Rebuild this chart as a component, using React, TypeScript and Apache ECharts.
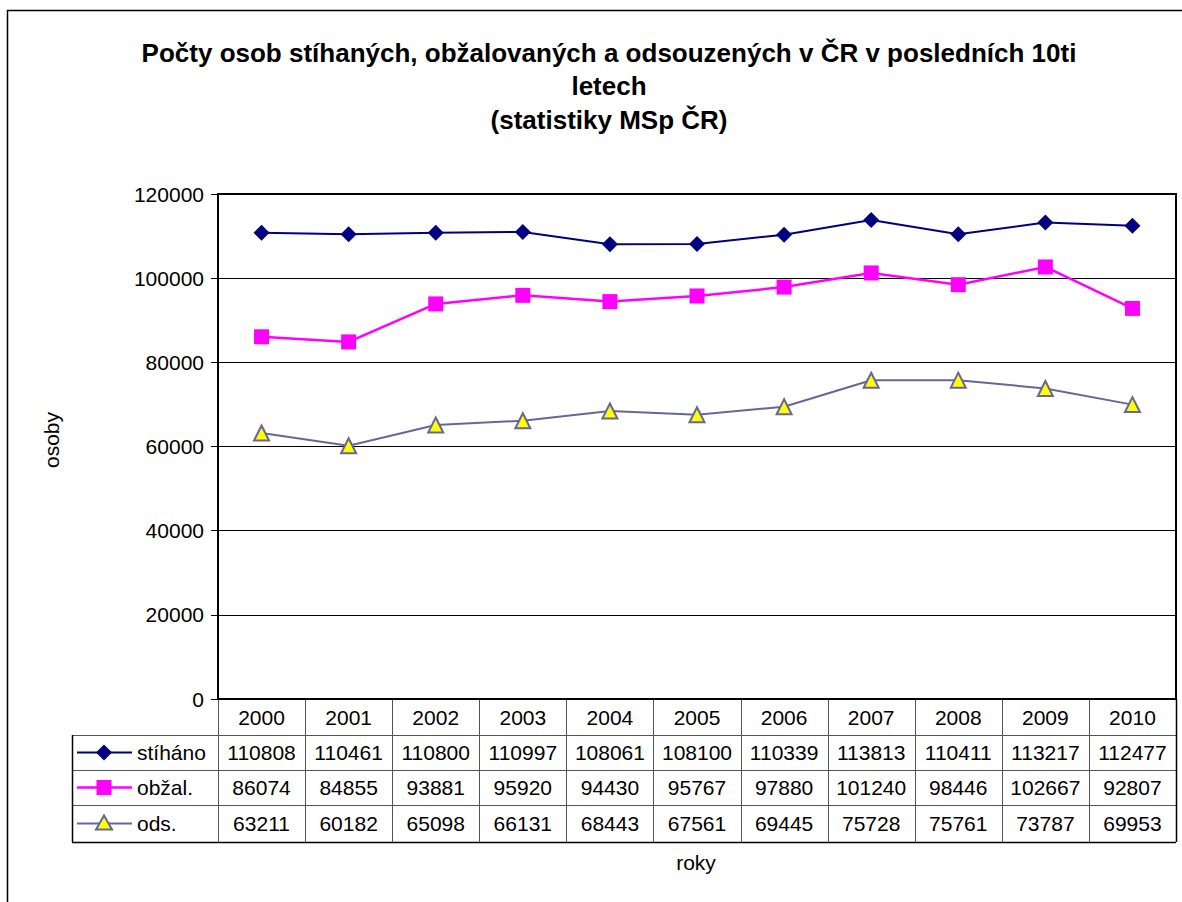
import React, { useEffect, useRef } from "react";
import * as echarts from "echarts";

const years = ["2000", "2001", "2002", "2003", "2004", "2005", "2006", "2007", "2008", "2009", "2010"];
const stihano = [110808, 110461, 110800, 110997, 108061, 108100, 110339, 113813, 110411, 113217, 112477];
const obzal = [86074, 84855, 93881, 95920, 94430, 95767, 97880, 101240, 98446, 102667, 92807];
const ods = [63211, 60182, 65098, 66131, 68443, 67561, 69445, 75728, 75761, 73787, 69953];
const yTicks = { min: 0, max: 120000, interval: 20000 };

const seriesNames = ["stíháno", "obžal.", "ods."];
const titleText = "Počty osob stíhaných, obžalovaných a odsouzených v ČR v posledních 10ti\nletech\n(statistiky MSp ČR)";

const FONT = "'Liberation Sans', Arial, sans-serif";
const FS = 21;
const G = { left: 218, top: 194, width: 958, height: 505 };
const TABLE_LEFT = 72;
const ROW_Y = [699, 735, 770, 805, 842];
const COLORS = {
  s: "#000080",
  o: "#FF00FF",
  d: "#666699",
  dFill: "#FFFF00",
};

export default function App() {
  const ref = useRef<HTMLDivElement>(null);
  useEffect(() => {
    const chart = echarts.init(ref.current!, null, { renderer: "svg" });
    const colW = G.width / years.length;
    const right = G.left + G.width;
    const rowsData = [stihano, obzal, ods];
    const graphics: any[] = [];
    graphics.push({
      type: "rect",
      shape: { x: 7.5, y: 10.5, width: 1300, height: 1000 },
      style: { fill: "none", stroke: "#000", lineWidth: 1.5 },
      silent: true,
    });
    const lineStyle = { stroke: "#555", lineWidth: 1 };
    for (let r = 1; r < ROW_Y.length; r++) {
      graphics.push({
        type: "line",
        shape: { x1: TABLE_LEFT, y1: ROW_Y[r] + 0.5, x2: right, y2: ROW_Y[r] + 0.5 },
        style: r === ROW_Y.length - 1 ? { stroke: "#000", lineWidth: 1.5 } : lineStyle,
      });
    }
    graphics.push({
      type: "line",
      shape: { x1: TABLE_LEFT + 0.5, y1: ROW_Y[1], x2: TABLE_LEFT + 0.5, y2: ROW_Y[4] },
      style: { stroke: "#000", lineWidth: 1.5 },
    });
    for (let c = 0; c <= years.length; c++) {
      const x = Math.round(G.left + c * colW) + 0.5;
      graphics.push({
        type: "line",
        shape: { x1: x, y1: ROW_Y[0], x2: x, y2: ROW_Y[4] },
        style: c === years.length ? { stroke: "#000", lineWidth: 1.5 } : lineStyle,
      });
    }
    rowsData.forEach((arr, r) => {
      const cy = (ROW_Y[r + 1] + ROW_Y[r + 2]) / 2;
      arr.forEach((v, c) => {
        graphics.push({
          type: "text",
          x: G.left + colW * (c + 0.5),
          y: cy,
          style: { text: String(v), font: `${FS}px ${FONT}`, fill: "#000", align: "center", verticalAlign: "middle" },
        });
      });
      const colsLine = [COLORS.s, COLORS.o, COLORS.d][r];
      graphics.push({
        type: "line",
        shape: { x1: 77, y1: cy, x2: 132, y2: cy },
        style: { stroke: colsLine, lineWidth: r === 1 ? 2.5 : 2 },
      });
      const mx = 104;
      if (r === 0) {
        graphics.push({
          type: "polygon",
          shape: { points: [[mx, cy - 8], [mx + 8, cy], [mx, cy + 8], [mx - 8, cy]] },
          style: { fill: COLORS.s },
        });
      } else if (r === 1) {
        graphics.push({ type: "rect", shape: { x: mx - 7.5, y: cy - 7.5, width: 15, height: 15 }, style: { fill: COLORS.o } });
      } else {
        graphics.push({
          type: "polygon",
          shape: { points: [[mx, cy - 8], [mx + 8, cy + 6], [mx - 8, cy + 6]] },
          style: { fill: COLORS.dFill, stroke: COLORS.d, lineWidth: 2 },
        });
      }
      graphics.push({
        type: "text",
        x: 137,
        y: cy,
        style: { text: seriesNames[r], font: `${FS}px ${FONT}`, fill: "#000", align: "left", verticalAlign: "middle" },
      });
    });
    graphics.push({
      type: "text",
      x: 696,
      y: 862,
      style: { text: "roky", font: `${FS}px ${FONT}`, fill: "#000", align: "center", verticalAlign: "middle" },
    });
    graphics.push({
      type: "text",
      x: 51,
      y: 440,
      rotation: Math.PI / 2,
      style: { text: "osoby", font: `${FS}px ${FONT}`, fill: "#000", align: "center", verticalAlign: "middle" },
    });

    chart.setOption({
      animation: false,
      backgroundColor: "#fff",
      textStyle: { fontFamily: FONT },
      title: {
        text: titleText,
        left: 604,
        top: 31,
        textAlign: "center",
        textStyle: { fontSize: 26, fontWeight: "bold", color: "#000", lineHeight: 33.5, fontFamily: FONT },
      },
      grid: { left: G.left, top: G.top, width: G.width, height: G.height, show: true, borderColor: "#000", borderWidth: 2, backgroundColor: "#fff" },
      xAxis: {
        type: "category",
        data: years,
        boundaryGap: true,
        axisLine: { show: false },
        axisTick: { show: false },
        axisLabel: { color: "#000", fontSize: FS, margin: 8, fontFamily: FONT },
        splitLine: { show: false },
      },
      yAxis: {
        type: "value",
        min: yTicks.min,
        max: yTicks.max,
        interval: yTicks.interval,
        axisLine: { show: true, lineStyle: { color: "#000", width: 2 } },
        axisTick: { show: true, length: 7, lineStyle: { color: "#000" } },
        axisLabel: { color: "#000", fontSize: FS, margin: 14, fontFamily: FONT, formatter: (v: number) => String(v) },
        splitLine: { show: true, lineStyle: { color: "#000", width: 1 } },
      },
      graphic: graphics,
      series: [
        {
          name: seriesNames[0],
          type: "line",
          data: stihano,
          symbol: "diamond",
          symbolSize: 16,
          lineStyle: { color: COLORS.s, width: 2 },
          itemStyle: { color: COLORS.s },
        },
        {
          name: seriesNames[1],
          type: "line",
          data: obzal,
          symbol: "rect",
          symbolSize: 15,
          lineStyle: { color: COLORS.o, width: 2.5 },
          itemStyle: { color: COLORS.o },
        },
        {
          name: seriesNames[2],
          type: "line",
          data: ods,
          symbol: "triangle",
          symbolSize: 15,
          lineStyle: { color: COLORS.d, width: 2 },
          itemStyle: { color: COLORS.dFill, borderColor: COLORS.d, borderWidth: 2 },
        },
      ],
    });
    return () => chart.dispose();
  }, []);
  return <div ref={ref} style={{ position: "absolute", left: 0, top: 0, width: 1182, height: 902 }} />;
}
